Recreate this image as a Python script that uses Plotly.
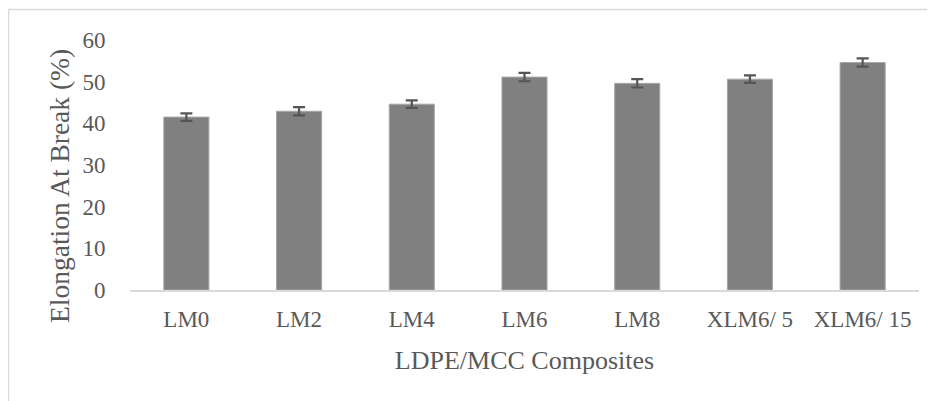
import plotly.graph_objects as go

categories = ["LM0", "LM2", "LM4", "LM6", "LM8", "XLM6/ 5", "XLM6/ 15"]
elongation = [41.5, 42.9, 44.6, 51.1, 49.6, 50.6, 54.6]
errors = [0.9, 1.0, 0.9, 1.0, 1.0, 0.9, 1.0]
y_ticks = [0, 10, 20, 30, 40, 50, 60]

W, H = 935, 401
OFF = 8  # page body margin offset
ML, MT = 130 - OFF, 40 - OFF
MR = W - (919 - OFF)
MB = H - (290 - OFF)
FONT = "Liberation Serif"
TXT = "#595959"

fig = go.Figure()
fig.add_trace(go.Bar(
    x=categories, y=elongation,
    marker=dict(color="#808080", line=dict(color="#a6a6a6", width=1)),
    error_y=dict(type="data", array=errors, visible=True,
                 color="#555555", thickness=2.2, width=6),
    width=0.4,
))

pw = W - ML - MR
ph = H - MT - MB
# outer chart border (top and left edges)
bx = (8.5 - OFF - ML) / pw
by = 1 + (MT - (9.5 - OFF)) / ph
fig.add_shape(type="line", xref="paper", yref="paper",
              x0=bx, x1=(W + 5 - ML) / pw, y0=by, y1=by,
              line=dict(color="#d9d9d9", width=1.5))
fig.add_shape(type="line", xref="paper", yref="paper",
              x0=bx, x1=bx, y0=by, y1=-(MB + 5) / ph,
              line=dict(color="#d9d9d9", width=1.5))

# y-axis title as annotation (positioned like the reference)
fig.add_annotation(
    text="Elongation At Break (%)", textangle=-90,
    xref="paper", yref="paper",
    x=(59 - OFF - ML) / pw, y=1 - (186 - OFF - MT) / ph,
    xanchor="center", yanchor="middle", showarrow=False,
    font=dict(size=27.5, color=TXT, family=FONT),
)

fig.update_layout(
    width=W, height=H,
    margin=dict(l=ML, r=MR, t=MT, b=MB),
    plot_bgcolor="white", paper_bgcolor="white",
    showlegend=False,
    font=dict(family=FONT, color=TXT),
    xaxis=dict(
        showline=True, linecolor="#d9d9d9", linewidth=1.5,
        showgrid=False, ticks="outside", ticklen=8, tickcolor="rgba(0,0,0,0)",
        tickfont=dict(size=23, color=TXT, family=FONT),
        title=dict(text="LDPE/MCC Composites", font=dict(size=26, color=TXT, family=FONT), standoff=19),
    ),
    yaxis=dict(
        range=[0, 60], tickvals=y_ticks, showgrid=False, zeroline=False,
        showline=False, ticks="outside", ticklen=19, tickcolor="rgba(0,0,0,0)",
        tickfont=dict(size=23, color=TXT, family=FONT),
    ),
)

fig.write_html("out.html")
